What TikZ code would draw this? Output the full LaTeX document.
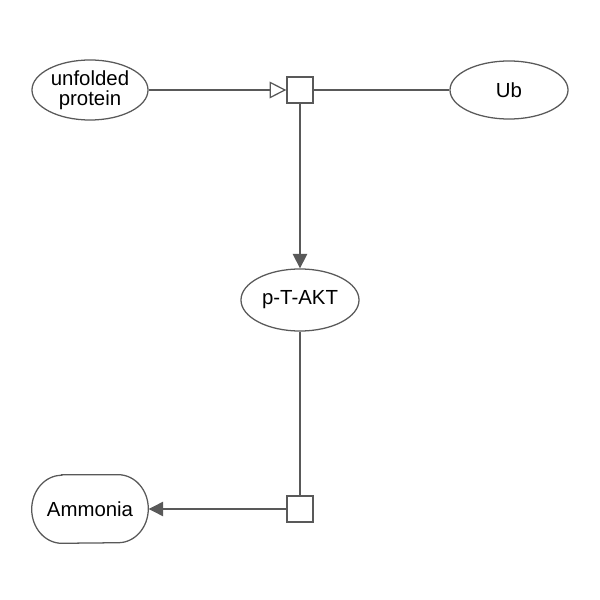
\documentclass[tikz,border=0pt]{standalone}
\usepackage{fontspec}
\setmainfont{Liberation Sans}
\usetikzlibrary{arrows.meta}
\definecolor{edgegray}{HTML}{595959}
\tikzset{
  species/.style={draw=edgegray, line width=0.9pt, ellipse, minimum width=2.9cm, minimum height=1.5cm, inner sep=0pt, align=center, font=\fontsize{14.5}{14.3}\selectfont},
  chemical/.style={minimum width=2.9cm, minimum height=1.7cm, inner sep=0pt, align=center, font=\fontsize{14.5}{14.3}\selectfont},
  process/.style={draw=edgegray, line width=0.9pt, fill=white, minimum size=0.65cm, inner sep=0pt},
  link/.style={draw=edgegray, line width=0.9pt},
}
\usetikzlibrary{shapes.geometric}
\begin{document}
\begin{tikzpicture}[x=0.025cm, y=0.025cm]
  \useasboundingbox (0,0) rectangle (600,600);
  % species
  \node[species] (unfolded) at (90,510) {unfolded\\protein};
  \node[species, minimum width=2.95cm, minimum height=1.45cm] (ub) at (509,510) {Ub};
  \node[species, minimum width=2.95cm, minimum height=1.55cm] (pakt) at (300,300) {p-T-AKT};
  \node[chemical] (ammonia) at (90,91) {Ammonia};
  \draw[link] ([xshift=0.75cm]ammonia.north west) -- ([xshift=-0.75cm]ammonia.north east)
    arc[start angle=90, end angle=-90, x radius=0.75cm, y radius=0.85cm]
    -- ([xshift=0.75cm]ammonia.south west)
    arc[start angle=270, end angle=90, x radius=0.75cm, y radius=0.85cm] -- cycle;
  % processes
  \node[process] (p1) at (300,510) {};
  \node[process] (p2) at (300,91) {};
  % arcs
  \draw[link, -{Triangle[open, length=0.42cm, width=0.42cm]}] (unfolded) -- (p1);
  \draw[link] (p1) -- (ub);
  \draw[link, -{Triangle[length=0.36cm, width=0.36cm]}] (p1) -- (pakt);
  \draw[link] (pakt) -- (p2);
  \draw[link, -{Triangle[length=0.36cm, width=0.36cm]}] (p2) -- ([xshift=0.3pt]ammonia.east);
\end{tikzpicture}
\end{document}
